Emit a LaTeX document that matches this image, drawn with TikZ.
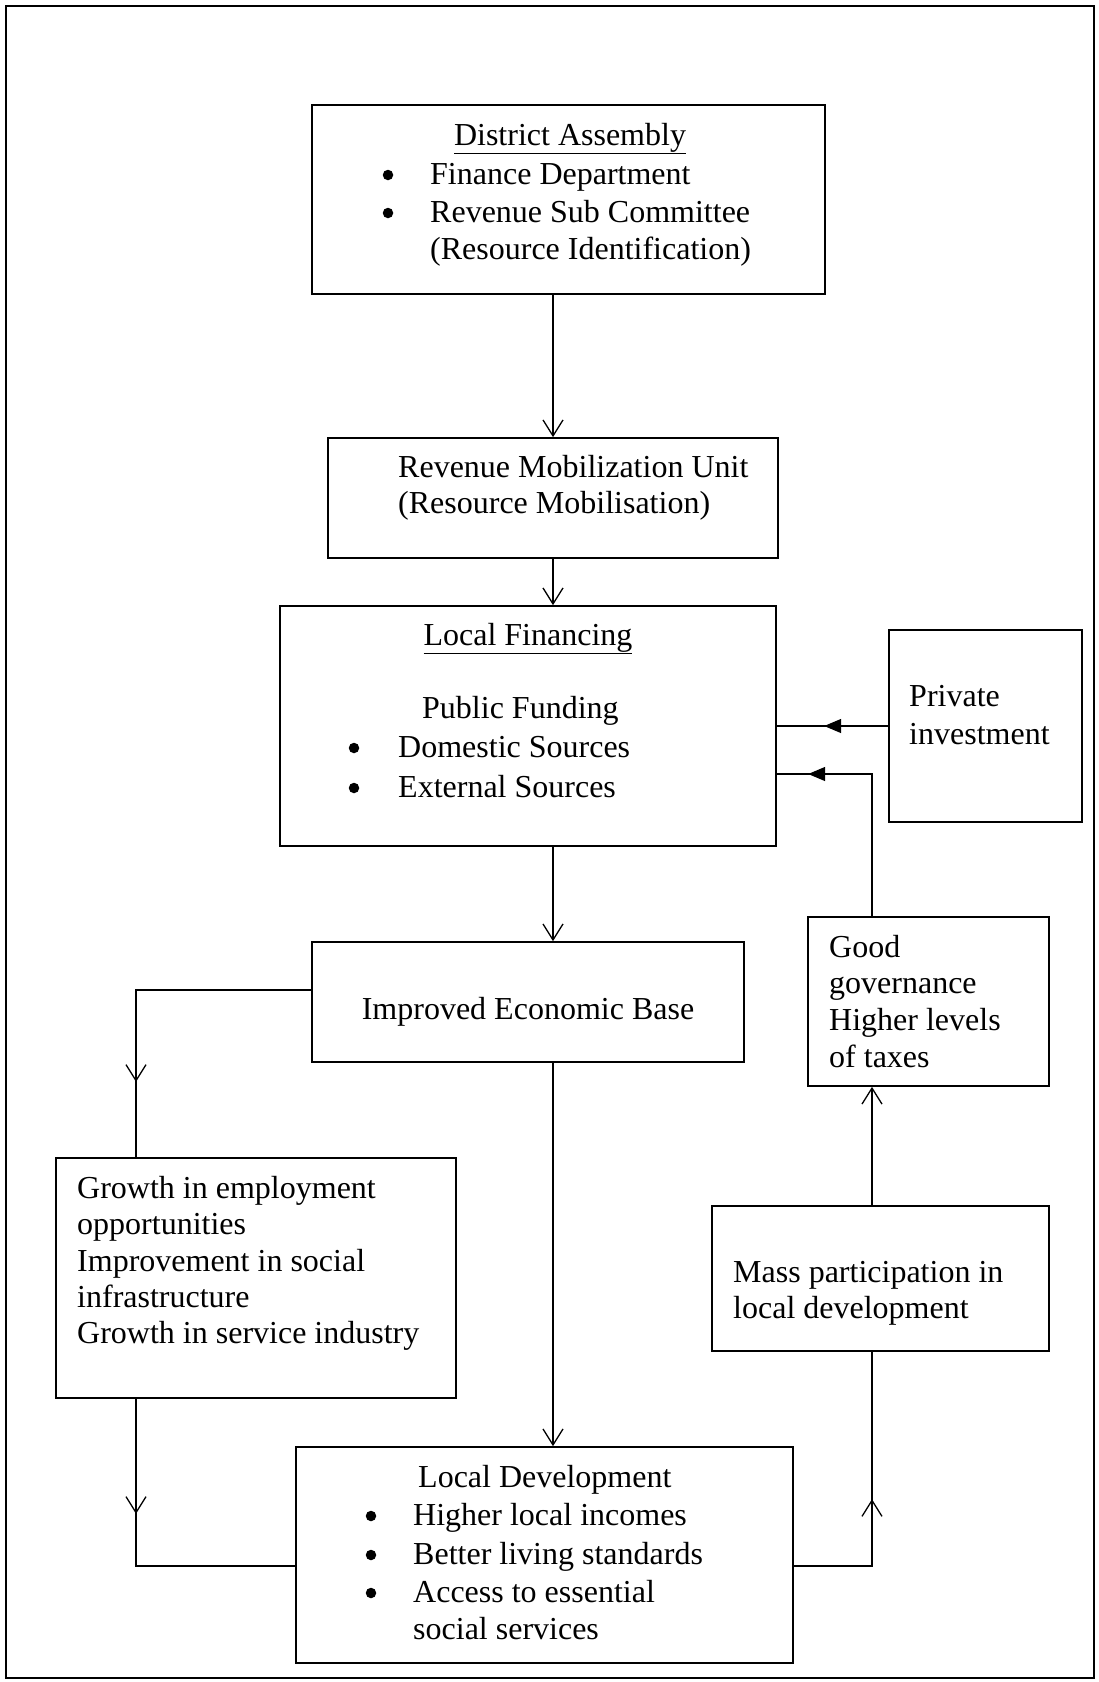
\documentclass[tikz,border=0pt]{standalone}
\usepackage{fontspec}
\setmainfont{Liberation Serif}
\usetikzlibrary{arrows.meta,decorations.markings}
\tikzset{
  vhead/.tip={Straight Barb[length=16pt,width=20pt,line width=1.3pt]},
  ttip/.tip={Triangle[length=17pt,width=14pt]},
}
\begin{document}
\begin{tikzpicture}[x=1pt,y=-1pt,
  box/.style={draw,line width=1.7pt,inner sep=0pt},
  txt/.style={inner sep=0pt,anchor=base west,font=\fontsize{32}{38}\selectfont},
  ctxt/.style={inner sep=0pt,anchor=base,font=\fontsize{32}{38}\selectfont},
  bul/.style={circle,fill=black,inner sep=0pt,minimum size=10.5pt,yshift=9pt},
  conn/.style={line width=1.3pt},
  midV/.style={postaction={decorate,decoration={markings,mark=at position #1 with {\arrow{vhead}}}}},
  midT/.style={postaction={decorate,decoration={markings,mark=at position #1 with {\arrow{ttip}}}}},
]
\useasboundingbox (0,0) rectangle (1099,1682);
\draw[line width=2.8pt] (6,6) rectangle (1094,1678);

% boxes
\node[box,minimum width=513pt,minimum height=189pt] (DA) at (568.5,199.5) {};
\node[box,minimum width=450pt,minimum height=120pt] (RMU) at (553,498) {};
\node[box,minimum width=496pt,minimum height=240pt] (LF) at (528,726) {};
\node[box,minimum width=193pt,minimum height=192pt] (PI) at (985.5,726) {};
\node[box,minimum width=432pt,minimum height=120pt] (IEB) at (528,1002) {};
\node[box,minimum width=241pt,minimum height=169pt] (GG) at (928.5,1001.5) {};
\node[box,minimum width=400pt,minimum height=240pt] (GR) at (256,1278) {};
\node[box,minimum width=337pt,minimum height=145pt] (MP) at (880.5,1278.5) {};
\node[box,minimum width=497pt,minimum height=216pt] (LD) at (544.5,1555) {};

% texts: District Assembly
\node[ctxt] (t1) at (570,145) {\underline{District Assembly}};
\node[bul] (b1) at (388,184) {};
\node[bul] (b2) at (388,222) {};
\node[txt] (t2) at (430,184) {Finance Department};
\node[txt] (t3) at (430,222) {Revenue Sub Committee};
\node[txt] (t4) at (430,259) {(Resource Identification)};
% RMU
\node[txt] (t5) at (398,477) {Revenue Mobilization Unit};
\node[txt] (t6) at (398,513) {(Resource Mobilisation)};
% Local Financing
\node[ctxt] (t7) at (528,645) {\underline{Local Financing}};
\node[txt] (t8) at (422,718) {Public Funding};
\node[bul] (b3) at (354,757) {};
\node[bul] (b4) at (354,797) {};
\node[txt] (t9) at (398,757) {Domestic Sources};
\node[txt] (t10) at (398,797) {External Sources};
% Private investment
\node[txt] (t11) at (909,706) {Private};
\node[txt] (t12) at (909,744) {investment};
% IEB
\node[ctxt] (t13) at (528,1019) {Improved Economic Base};
% Good governance
\node[txt] (t14) at (829,957) {Good};
\node[txt] (t15) at (829,993) {governance};
\node[txt] (t16) at (829,1030) {Higher levels};
\node[txt] (t17) at (829,1067) {of taxes};
% Growth
\node[txt] (t18) at (77,1198) {Growth in employment};
\node[txt] (t19) at (77,1234) {opportunities};
\node[txt] (t20) at (77,1271) {Improvement in social};
\node[txt] (t21) at (77,1307) {infrastructure};
\node[txt] (t22) at (77,1343) {Growth in service industry};
% Mass participation
\node[txt] (t23) at (733,1282) {Mass participation in};
\node[txt] (t24) at (733,1318) {local development};
% Local Development
\node[txt] (t25) at (418,1487) {Local Development};
\node[bul] (b5) at (371,1525) {};
\node[bul] (b6) at (371,1564) {};
\node[bul] (b7) at (371,1602) {};
\node[txt] (t26) at (413,1525) {Higher local incomes};
\node[txt] (t27) at (413,1564) {Better living standards};
\node[txt] (t28) at (413,1602) {Access to essential};
\node[txt] (t29) at (413,1639) {social services};

% helper coordinates for connector columns
\coordinate (lx) at (136,0);
\coordinate (rx) at (872,0);

% connectors
\draw[conn,-{vhead}] (DA.south -| RMU.north) -- (RMU.north);
\draw[conn,-{vhead}] (RMU.south) -- (RMU.south |- LF.north);
\draw[conn,-{vhead}] (LF.south -| RMU.south) -- (IEB.north -| RMU.south);
\draw[conn,-{vhead}] (IEB.south -| RMU.south) -- (LD.north -| RMU.south);
\draw[conn,midV=267pt] ([yshift=12pt]IEB.west) -| (GR.north -| lx);
\draw[conn,midV=115pt] (GR.south -| lx) |- ([yshift=-11pt]LD.west);
\draw[conn,midV=145pt] ([yshift=-11pt]LD.east) -| (MP.south -| rx);
\draw[conn,-{vhead}] (MP.north -| rx) -- (GG.south -| rx);
\draw[conn,midT=206pt] (GG.north -| rx) |- ([yshift=-48pt]LF.east);
\draw[conn,midT=64pt] (PI.west) -- (PI.west -| LF.east);
\end{tikzpicture}
\end{document}
